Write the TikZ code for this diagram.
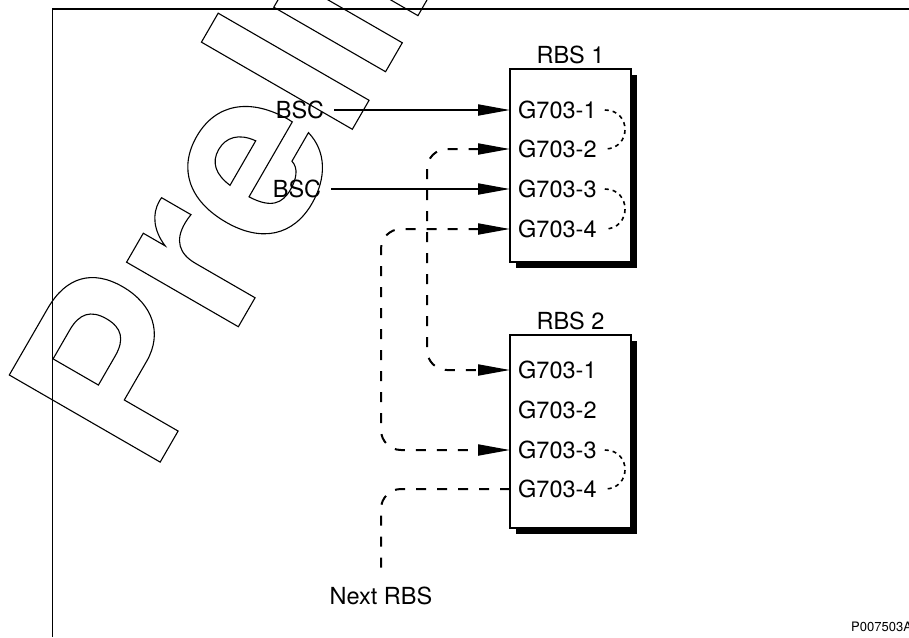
\documentclass[tikz,border=0pt]{standalone}
\usepackage{fontspec}
\setmainfont{TeX Gyre Heros}
\usetikzlibrary{positioning, arrows.meta, shadows}

% hollow letters for the draft stamp
\newcommand{\hollowtext}[1]{\special{pdf:literal direct 1 Tr 1.1 w}#1\special{pdf:literal direct 0 Tr}}
\newcommand{\diagfont}{\fontsize{23.5}{28}\selectfont}

\tikzset{
  rbsbox/.style={draw, fill=white, line width=1.2pt, inner sep=0pt,
    minimum width=121pt, minimum height=193pt,
    drop shadow={shadow xshift=6pt, shadow yshift=-6pt, opacity=1, fill=black}},
  port/.style={anchor=west, inner xsep=8pt, inner ysep=0pt},
  source/.style={inner xsep=10pt, inner ysep=0pt},
  feed/.style={->, line width=2pt},
  link/.style={line width=2pt, dash pattern=on 10pt off 11pt, rounded corners=20pt},
  loopback/.style={line width=1.6pt, dash pattern=on 4pt off 4pt},
}

\begin{document}
\begin{tikzpicture}[x=1pt, y=-1pt, font=\diagfont,
  >={Triangle[length=32pt, width=11pt]}]
\useasboundingbox (0,0) rectangle (909,637);

% draft stamp
\begin{scope}
\clip (0,0) rectangle (909,637);
\node[rotate=60, anchor=base west, inner sep=0pt,
  font=\fontsize{239}{239}\selectfont\bfseries] (stamp) at (151,478) {\hollowtext{Preliminary}};
\end{scope}

% frame
\draw[line width=1.2pt] (52.5,637) -- (52.5,9) -- (909,9);

% RBS 1
\node[rbsbox] (rbsA) at (570.5,165.5) {};
\node[above=1pt of rbsA] (rbsAlabel) {RBS 1};
\node[port] (pA1) at (510,110) {G703-1};
\node[port] (pA2) at (510,149) {G703-2};
\node[port] (pA3) at (510,189) {G703-3};
\node[port] (pA4) at (510,229) {G703-4};

% RBS 2
\node[rbsbox] (rbsB) at (570.5,431.5) {};
\node[above=1pt of rbsB] (rbsBlabel) {RBS 2};
\node[port] (pB1) at (510,370) {G703-1};
\node[port] (pB2) at (510,409.5) {G703-2};
\node[port] (pB3) at (510,450) {G703-3};
\node[port] (pB4) at (510,489) {G703-4};

% sources
\node[source] (bscA) at (300,110) {BSC};
\node[source] (bscB) at (297,189) {BSC};
\node[anchor=north, inner ysep=14pt] (nextRBS) at (381,573) {Next RBS};
\node[anchor=west, inner sep=0pt, font=\fontsize{13}{15}\selectfont] (figid) at (851,627) {P007503A};

\coordinate (colA) at (427,0);
\coordinate (colB) at (381,0);

% connections
\draw[feed] (bscA) -- (pA1);
\draw[feed] (bscB) -- (pA3);
\draw[link, <->] (pA2.west) -- (pA2.west -| colA) -- (pB1.west -| colA) -- (pB1.west);
\draw[link, <->] (pA4.west) -- (pA4.west -| colB) -- (pB3.west -| colB) -- (pB3.west);
\draw[link] (pB4.west) -- (pB4.west -| colB) -- (nextRBS.north);

% loops
\draw[loopback] (pA1.east) .. controls +(27,0) and +(27,0) .. (pA2.east);
\draw[loopback] (pA3.east) .. controls +(27,0) and +(27,0) .. (pA4.east);
\draw[loopback] (pB3.east) .. controls +(27,0) and +(27,0) .. (pB4.east);
\end{tikzpicture}
\end{document}
